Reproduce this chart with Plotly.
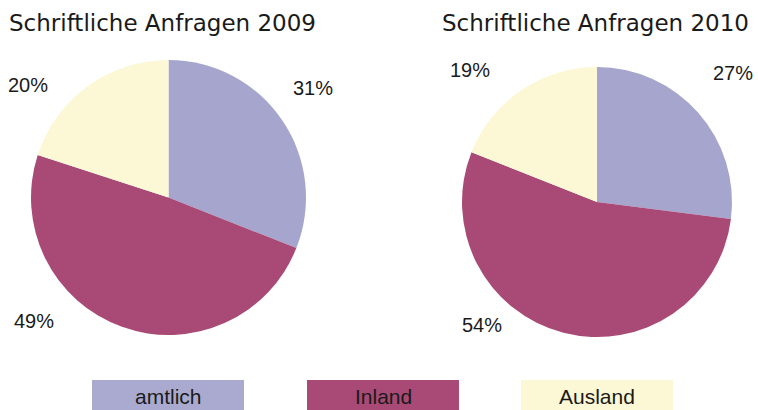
import plotly.graph_objects as go

categories = ["amtlich", "Inland", "Ausland"]
values_2009 = [31, 49, 20]
values_2010 = [27, 54, 19]
titles = ["Schriftliche Anfragen 2009", "Schriftliche Anfragen 2010"]
colors = ["#A5A5CE", "#A94A76", "#FCF7D4"]
legend_colors = ["#AAAAD0", "#A94A76", "#FCF7D4"]

W, H = 758, 410

def px_x(x):
    return x / W

def px_y(y):
    return 1 - y / H

fig = go.Figure()

pie_boxes = [(31, 306, 60, 335), (462, 732, 67, 337)]
for vals, (x0, x1, y0, y1) in zip([values_2009, values_2010], pie_boxes):
    fig.add_trace(go.Pie(
        labels=categories, values=vals, sort=False, direction="clockwise",
        rotation=0, marker=dict(colors=colors, line=dict(width=0)),
        textinfo="none", hoverinfo="label+percent", showlegend=False,
        domain=dict(x=[px_x(x0), px_x(x1)], y=[px_y(y1), px_y(y0)]),
    ))

annotations = []
# titles
title_pos = [(7, 23), (440, 23)]
for t, (x, y) in zip(titles, title_pos):
    annotations.append(dict(text=t, x=px_x(x), y=px_y(y), xref="paper", yref="paper",
                            xanchor="left", yanchor="middle", showarrow=False,
                            font=dict(size=23, color="#1a1a1a",
                                      family="DejaVu Sans, Liberation Sans, sans-serif")))

# percentage labels
label_pos = [
    [(313, 88), (34, 321), (28, 85)],
    [(733, 73), (482, 325), (470, 70)],
]
for vals, poss in zip([values_2009, values_2010], label_pos):
    for v, (x, y) in zip(vals, poss):
        annotations.append(dict(text=f"{v}%", x=px_x(x), y=px_y(y), xref="paper", yref="paper",
                                xanchor="center", yanchor="middle", showarrow=False,
                                font=dict(size=20, color="#1a1a1a")))

# legend boxes
shapes = []
legend_x = [(92, 244), (307, 459), (521, 673)]
ly0, ly1 = 380, 410
for cat, col, (x0, x1) in zip(categories, legend_colors, legend_x):
    shapes.append(dict(type="rect", xref="paper", yref="paper",
                       x0=px_x(x0), x1=px_x(x1), y0=px_y(ly1), y1=px_y(ly0),
                       fillcolor=col, line=dict(width=0), layer="below"))
    annotations.append(dict(text=cat, x=px_x((x0 + x1) / 2), y=px_y(396),
                            xref="paper", yref="paper", xanchor="center", yanchor="middle",
                            showarrow=False, font=dict(size=21, color="#1a1a1a")))

fig.update_layout(
    width=W, height=H, margin=dict(l=0, r=0, t=0, b=0),
    paper_bgcolor="white", plot_bgcolor="white",
    font=dict(family="Liberation Sans, Arial, sans-serif"),
    annotations=annotations, shapes=shapes,
)

fig.write_html("out.html", config=dict(displayModeBar=False),
               post_script="document.body.style.margin='0';document.body.style.padding='0';")
